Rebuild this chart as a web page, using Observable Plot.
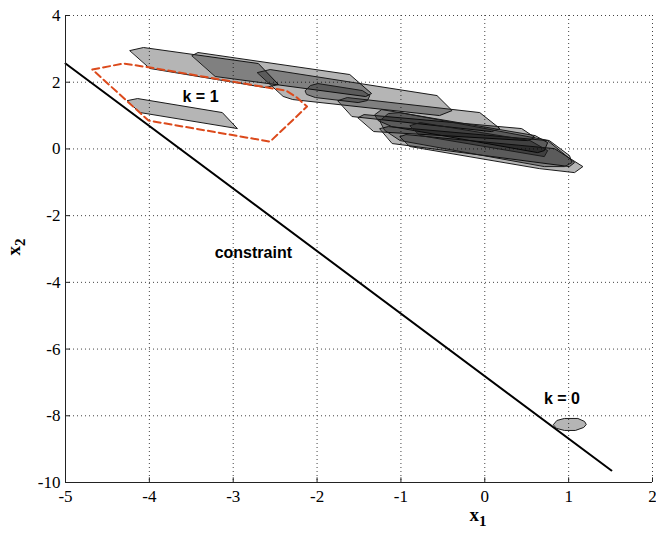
<!DOCTYPE html>
<html>
<head>
<meta charset="utf-8">
<script src="https://cdn.jsdelivr.net/npm/d3@7"></script>
<script src="https://cdn.jsdelivr.net/npm/@observablehq/plot@0.6"></script>
<style>
  html, body { margin: 0; padding: 0; background: #fff; }
  #chart { width: 656px; height: 535px; }
</style>
</head>
<body>
<div id="chart"></div>
<script>
// ---- tick values ----
const xTicks = [-5, -4, -3, -2, -1, 0, 1, 2];
const yTicks = [-10, -8, -6, -4, -2, 0, 2, 4];

// ---- reachable sets (x1, x2 vertices) ----
const set1 = [[-4.23, 2.95], [-4.07, 3.04], [-2.70, 2.56], [-2.46, 1.93], [-2.62, 1.84], [-3.99, 2.41]];
const set2 = [[-3.49, 2.80], [-3.42, 2.89], [-1.61, 2.23], [-1.35, 1.66], [-1.42, 1.57], [-3.21, 2.17]];
const set3 = [[-2.71, 2.29], [-2.56, 2.38], [-0.57, 1.60], [-0.39, 1.15], [-0.54, 1.00], [-2.29, 1.48], [-2.40, 1.57]];
const set4 = [[-2.14, 1.75], [-2.08, 1.90], [-1.99, 1.96], [-1.46, 1.75], [-1.37, 1.60], [-1.40, 1.45], [-1.51, 1.39], [-2.02, 1.54], [-2.12, 1.63]];
const set5 = [[-1.75, 1.45], [-1.64, 1.54], [-0.06, 1.09], [0.18, 0.61], [0.08, 0.52], [-1.58, 0.97]];
const set6 = [[-1.51, 0.94], [-1.44, 1.03], [0.44, 0.61], [0.60, 0.34], [0.51, 0.25], [-1.32, 0.52]];
const set7 = [[-1.31, 1.03], [-1.23, 1.18], [0.60, 0.40], [0.75, 0.19], [0.71, -0.05], [0.63, -0.11], [-1.11, 0.67], [-1.27, 0.85]];
const set8 = [[-1.25, 0.61], [-1.15, 0.67], [0.75, 0.25], [1.07, -0.41], [1.01, -0.53], [-1.10, 0.16]];
const set9 = [[-1.01, 0.37], [-0.94, 0.43], [0.83, 0.01], [1.17, -0.53], [1.07, -0.71], [0.65, -0.59], [-0.89, 0.07]];
const set10 = [[-1.25, 0.85], [-1.15, 1.06], [-1.01, 1.09], [0.77, 0.25], [1.01, -0.20], [1.04, -0.41], [0.95, -0.53], [0.71, -0.53], [-1.01, 0.25], [-1.19, 0.55]];
const set11 = [[-0.89, 0.70], [-0.77, 0.79], [0.54, 0.25], [0.75, -0.05], [0.71, -0.23], [-0.77, 0.40]];
const setK1 = [[-4.26, 1.45], [-4.14, 1.51], [-3.13, 1.09], [-2.95, 0.61], [-4.11, 1.09]];
const setK0 = [[0.82, -8.26], [0.86, -8.14], [0.95, -8.08], [1.11, -8.08], [1.19, -8.17], [1.21, -8.26], [1.18, -8.35], [1.08, -8.44], [0.95, -8.44], [0.86, -8.38]];

// ---- dashed k = 1 outer set ----
const outerK1 = [[-4.68, 2.38], [-4.31, 2.56], [-3.99, 2.44], [-2.52, 1.81], [-2.37, 1.75], [-2.24, 1.54], [-2.12, 1.27], [-2.56, 0.22], [-4.01, 0.85]];

// ---- constraint line ----
const constraintX = [-5, 1.51];
const constraintY = [2.56, -9.64];

// ---- labels ----
const labelText = ["k = 1", "k = 0", "constraint"];
const labelX = [-3.39, 0.92, -2.76];
const labelY = [1.57, -7.48, -3.13];

// ---- build tables ----
const grey = [set1, set2, set3, set4, set5, set6, set7, set8, set9, set10, set11, setK1, setK0];
const greyRows = grey.flatMap((pts, i) => pts.map(([x, y]) => ({id: i, x, y})));
const redRows = outerK1.map(([x, y]) => ({x, y}));
const lineRows = constraintX.map((x, i) => ({x, y: constraintY[i]}));
const labels = labelText.map((t, i) => ({t, x: labelX[i], y: labelY[i]}));

const serif = "'Liberation Serif', 'DejaVu Serif', serif";
const sans = "'Liberation Sans', Arial, sans-serif";

const chart = Plot.plot({
  width: 656,
  height: 535,
  marginLeft: 65,
  marginRight: 4,
  marginTop: 15,
  marginBottom: 53,
  style: {fontSize: "17px", background: "#fff", color: "#000"},
  x: {domain: [-5, 2]},
  y: {domain: [-10, 4]},
  marks: [
    Plot.gridX(xTicks, {stroke: "#444", strokeOpacity: 1, strokeDasharray: "1,3", strokeWidth: 1}),
    Plot.gridY(yTicks, {stroke: "#444", strokeOpacity: 1, strokeDasharray: "1,3", strokeWidth: 1}),
    Plot.axisX(xTicks, {tickSize: 0, tickPadding: 7, label: null, tickFormat: d => d, fontFamily: serif, fontSize: 17}),
    Plot.axisY(yTicks, {tickSize: 0, tickPadding: 5, label: null, tickFormat: d => d, fontFamily: serif, fontSize: 17}),
    Plot.ruleX(xTicks, {y1: -10, y2: -9.86, stroke: "#222"}),
    Plot.ruleY(yTicks, {x1: -5, x2: -4.94, stroke: "#222"}),
    Plot.line(greyRows, {x: "x", y: "y", z: "id", curve: "linear-closed", fill: "#000", fillOpacity: 0.29, stroke: "#1a1a1a", strokeWidth: 1}),
    Plot.line(lineRows, {x: "x", y: "y", stroke: "#000", strokeWidth: 2}),
    Plot.line(redRows, {x: "x", y: "y", curve: "linear-closed", stroke: "#dc4a1c", strokeWidth: 2, strokeDasharray: "7,4"}),
    Plot.text(labels, {x: "x", y: "y", text: "t", fontFamily: sans, fontWeight: "bold", fontSize: 16, fill: "#000"}),
    Plot.ruleX([-5], {stroke: "#222", strokeWidth: 1}),
    Plot.ruleY([-10], {stroke: "#222", strokeWidth: 1})
  ]
});

document.getElementById("chart").appendChild(chart);

const svg = d3.select(chart);

// axis titles with subscripts
const t1 = svg.append("text")
  .attr("x", 478).attr("y", 521)
  .attr("text-anchor", "middle")
  .style("font-family", serif).style("font-weight", "bold").style("font-size", "19px");
t1.append("tspan").text("x");
t1.append("tspan").attr("dy", 5).style("font-size", "15px").text("1");

const t2 = svg.append("text")
  .attr("transform", "translate(20,247) rotate(-90)")
  .attr("text-anchor", "middle")
  .style("font-family", serif).style("font-weight", "bold").style("font-size", "19px");
t2.append("tspan").text("x");
t2.append("tspan").attr("dy", 5).style("font-size", "15px").text("2");
</script>
</body>
</html>
